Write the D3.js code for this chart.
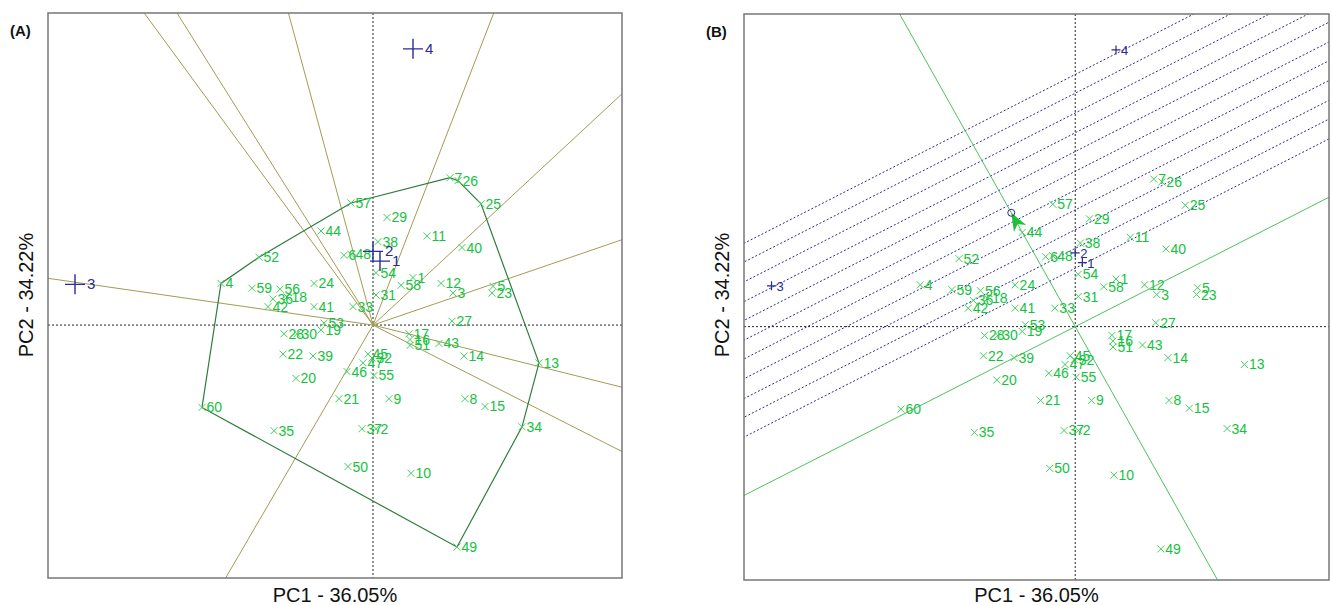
<!DOCTYPE html>
<html>
<head>
<meta charset="utf-8">
<script src="https://cdn.jsdelivr.net/npm/d3@7/dist/d3.min.js"></script>
<style>
body{margin:0;background:#fff;}
text{font-family:"Liberation Sans", Arial, sans-serif;}
</style>
</head>
<body>
<div class="graph"></div>
<script>
//Genotype scores
const genotypeNames = d3.range(1, 61).map(String);
const genotypePC1 = [0.40, 0.03, 0.80, -1.52, 1.20, -0.29, 0.77, 0.92, 0.16, 0.38,
                     0.54, 0.68, 1.66, 0.91, 1.12, 0.37, 0.36, -0.86, -0.52, -0.77,
                     -0.34, -0.90, 1.19, -0.59, 1.08, 0.85, 0.79, -0.89, 0.14, -0.76,
                     0.03, -0.01, -0.20, 1.49, -0.99, -1.00, -0.11, 0.05, -0.60, 0.89,
                     -0.59, -1.05, 0.66, -0.52, -0.05, -0.26, -0.10, -0.22, 0.84, -0.25,
                     0.37, -1.14, -0.49, 0.03, 0.01, -0.93, -0.22, 0.28, -1.21, -1.71];
const genotypePC2 = [0.49, -1.07, 0.33, 0.43, 0.40, 0.72, 1.52, -0.76, -0.76, -1.53,
                     0.92, 0.43, -0.39, -0.32, -0.84, -0.15, -0.09, 0.29, -0.05, -0.55,
                     -0.76, -0.30, 0.33, 0.43, 1.25, 1.49, 0.04, -0.09, 1.11, -0.09,
                     0.31, -0.34, 0.19, -1.05, -1.09, 0.27, -1.07, 0.86, -0.32, 0.80,
                     0.19, 0.19, -0.19, 0.97, -0.30, -0.48, -0.39, 0.73, -2.29, -1.46,
                     -0.21, 0.70, 0.02, 0.54, -0.52, 0.37, 1.26, 0.41, 0.38, -0.85];

//Environment scores
const environmentNames = ["1", "2", "3", "4"];
const environmentPC1 = [0.07, 0.00, -2.98, 0.40];
const environmentPC2 = [0.66, 0.76, 0.42, 2.85];

//Ranking lines of panel B, distance from origin along the average environment axis
const rankLineDistances = [0.53, 0.71, 0.88, 1.06, 1.24, 1.41, 1.59, 1.76, 1.94, 2.12, 2.29];

//Texts
const xTitle = "PC1 - 36.05%";
const yTitle = "PC2 - 34.22%";
const panelTitles = ["(A)", "(B)"];

const genotypes = genotypeNames.map((n, i) => ({name: n, pc1: genotypePC1[i], pc2: genotypePC2[i]}));
const environments = environmentNames.map((n, i) => ({name: n, pc1: environmentPC1[i], pc2: environmentPC2[i]}));

const svg = d3.select(".graph").append("svg")
    .attr("width", 1332)
    .attr("height", 605);

class Biplot{

    constructor(id, left, top, right, bottom, title, big){
        this.id = id;
        this.left = left;
        this.top = top;
        this.right = right;
        this.bottom = bottom;
        this.title = title;
        this.big = big;
        this.setup();
    }

    setup(){
        //Scales
        this.x = d3.scaleLinear().domain([-3.25, 2.49]).range([this.left, this.right]);
        this.y = d3.scaleLinear().domain([-2.61, 3.22]).range([this.bottom, this.top]);

        this.g = svg.append("g");

        this.g.append("clipPath").attr("id", "clip" + this.id)
            .append("rect")
            .attr("x", this.left).attr("y", this.top)
            .attr("width", this.right - this.left).attr("height", this.bottom - this.top);

        this.plot = this.g.append("g").attr("clip-path", "url(#clip" + this.id + ")");

        //Axes through origin
        this.plot.append("line")
            .attr("x1", this.left).attr("x2", this.right)
            .attr("y1", this.y(0)).attr("y2", this.y(0))
            .attr("stroke", "#222").attr("stroke-width", 1).attr("stroke-dasharray", "2,2");
        this.plot.append("line")
            .attr("x1", this.x(0)).attr("x2", this.x(0))
            .attr("y1", this.top).attr("y2", this.bottom)
            .attr("stroke", "#222").attr("stroke-width", 1).attr("stroke-dasharray", "2,2");

        //Frame
        this.g.append("rect")
            .attr("x", this.left).attr("y", this.top)
            .attr("width", this.right - this.left).attr("height", this.bottom - this.top)
            .attr("fill", "none").attr("stroke", "#777").attr("stroke-width", 1.5);

        //Titles
        this.g.append("text")
            .attr("x", (this.left + this.right) / 2).attr("y", 602)
            .attr("text-anchor", "middle").attr("font-size", 20).attr("fill", "#111")
            .text(xTitle);
        this.g.append("text")
            .attr("transform", "translate(" + (this.left - 15) + ",295) rotate(-90)")
            .attr("text-anchor", "middle").attr("font-size", 20).attr("fill", "#111")
            .text(yTitle);
        this.g.append("text")
            .attr("x", this.left - 38).attr("y", this.top + 23)
            .attr("font-family", "Liberation Serif, Times New Roman, serif")
            .attr("font-weight", "bold").attr("font-size", 15).attr("fill", "#111")
            .text(this.title);
    }

    line(a, b, color, dash){
        return this.plot.append("line")
            .attr("x1", this.x(a[0])).attr("y1", this.y(a[1]))
            .attr("x2", this.x(b[0])).attr("y2", this.y(b[1]))
            .attr("stroke", color).attr("stroke-width", 1)
            .attr("stroke-dasharray", dash);
    }

    drawSectors(){
        const hull = d3.polygonHull(genotypes.map(d => [d.pc1, d.pc2]));

        //Rays perpendicular to each polygon side
        hull.forEach((a, i) => {
            const b = hull[(i + 1) % hull.length];
            let n = [b[1] - a[1], a[0] - b[0]];
            if(n[0] * a[0] + n[1] * a[1] < 0) n = [-n[0], -n[1]];
            const len = Math.hypot(n[0], n[1]);
            this.line([0, 0], [n[0] / len * 10, n[1] / len * 10], "#a39c52", null);
        });

        //Polygon
        this.plot.append("path")
            .attr("d", d3.line().x(d => this.x(d[0])).y(d => this.y(d[1]))(hull.concat([hull[0]])))
            .attr("fill", "none").attr("stroke", "#2f7d3c").attr("stroke-width", 1.2);
    }

    drawAverageAxis(){
        const m = [d3.mean(environments, d => d.pc1), d3.mean(environments, d => d.pc2)];
        const len = Math.hypot(m[0], m[1]);
        const u = [m[0] / len, m[1] / len];
        const v = [u[1], -u[0]];

        //Ranking lines
        rankLineDistances.forEach(d => {
            const c = [u[0] * d, u[1] * d];
            this.line([c[0] - v[0] * 10, c[1] - v[1] * 10], [c[0] + v[0] * 10, c[1] + v[1] * 10], "#2b2b8c", "2,2");
        });

        //Average environment axis and its perpendicular
        this.line([-u[0] * 10, -u[1] * 10], [u[0] * 10, u[1] * 10], "#4cc35c", null);
        this.line([-v[0] * 10, -v[1] * 10], [v[0] * 10, v[1] * 10], "#4cc35c", null);

        //Arrow and average environment
        const tx = this.x(m[0]), ty = this.y(m[1]);
        const ang = Math.atan2(this.y(0) - ty, this.x(0) - tx) * 180 / Math.PI;
        this.plot.append("path")
            .attr("d", "M0,0L18,-7L13,0L18,7Z")
            .attr("transform", "translate(" + tx + "," + ty + ") rotate(" + ang + ")")
            .attr("fill", "#1fbf3c");
        this.plot.append("circle")
            .attr("cx", tx).attr("cy", ty).attr("r", 3.5)
            .attr("fill", "none").attr("stroke", "#2b2b8c").attr("stroke-width", 1);
    }

    drawPoints(){
        const size = this.big ? 10 : 4.5;

        //Genotypes
        const gen = this.plot.selectAll(".gen").data(genotypes).enter().append("g")
            .attr("transform", d => "translate(" + this.x(d.pc1) + "," + this.y(d.pc2) + ")");
        gen.append("path")
            .attr("d", "M-3.5,-3.5L3.5,3.5M-3.5,3.5L3.5,-3.5")
            .attr("stroke", "#3fcf5f").attr("stroke-width", 1);
        gen.append("text")
            .attr("x", 4.5).attr("y", 5)
            .attr("font-size", 14).attr("fill", "#14c23e")
            .text(d => d.name);

        //Environments
        const env = this.plot.selectAll(".env").data(environments).enter().append("g")
            .attr("transform", d => "translate(" + this.x(d.pc1) + "," + this.y(d.pc2) + ")");
        env.append("path")
            .attr("d", "M" + (-size) + ",0H" + size + "M0," + (-size) + "V" + size)
            .attr("stroke", "#2a2a9a").attr("stroke-width", this.big ? 1.4 : 1.2);
        env.append("text")
            .attr("x", this.big ? 12 : 5).attr("y", 5)
            .attr("font-size", this.big ? 15 : 13).attr("fill", "#2a2a9a")
            .text(d => d.name);
    }
}

const panelA = new Biplot("A", 48, 13, 622, 578, panelTitles[0], true);
panelA.drawSectors();
panelA.drawPoints();

const panelB = new Biplot("B", 744, 14, 1329, 580, panelTitles[1], false);
panelB.drawAverageAxis();
panelB.drawPoints();
</script>
</body>
</html>
